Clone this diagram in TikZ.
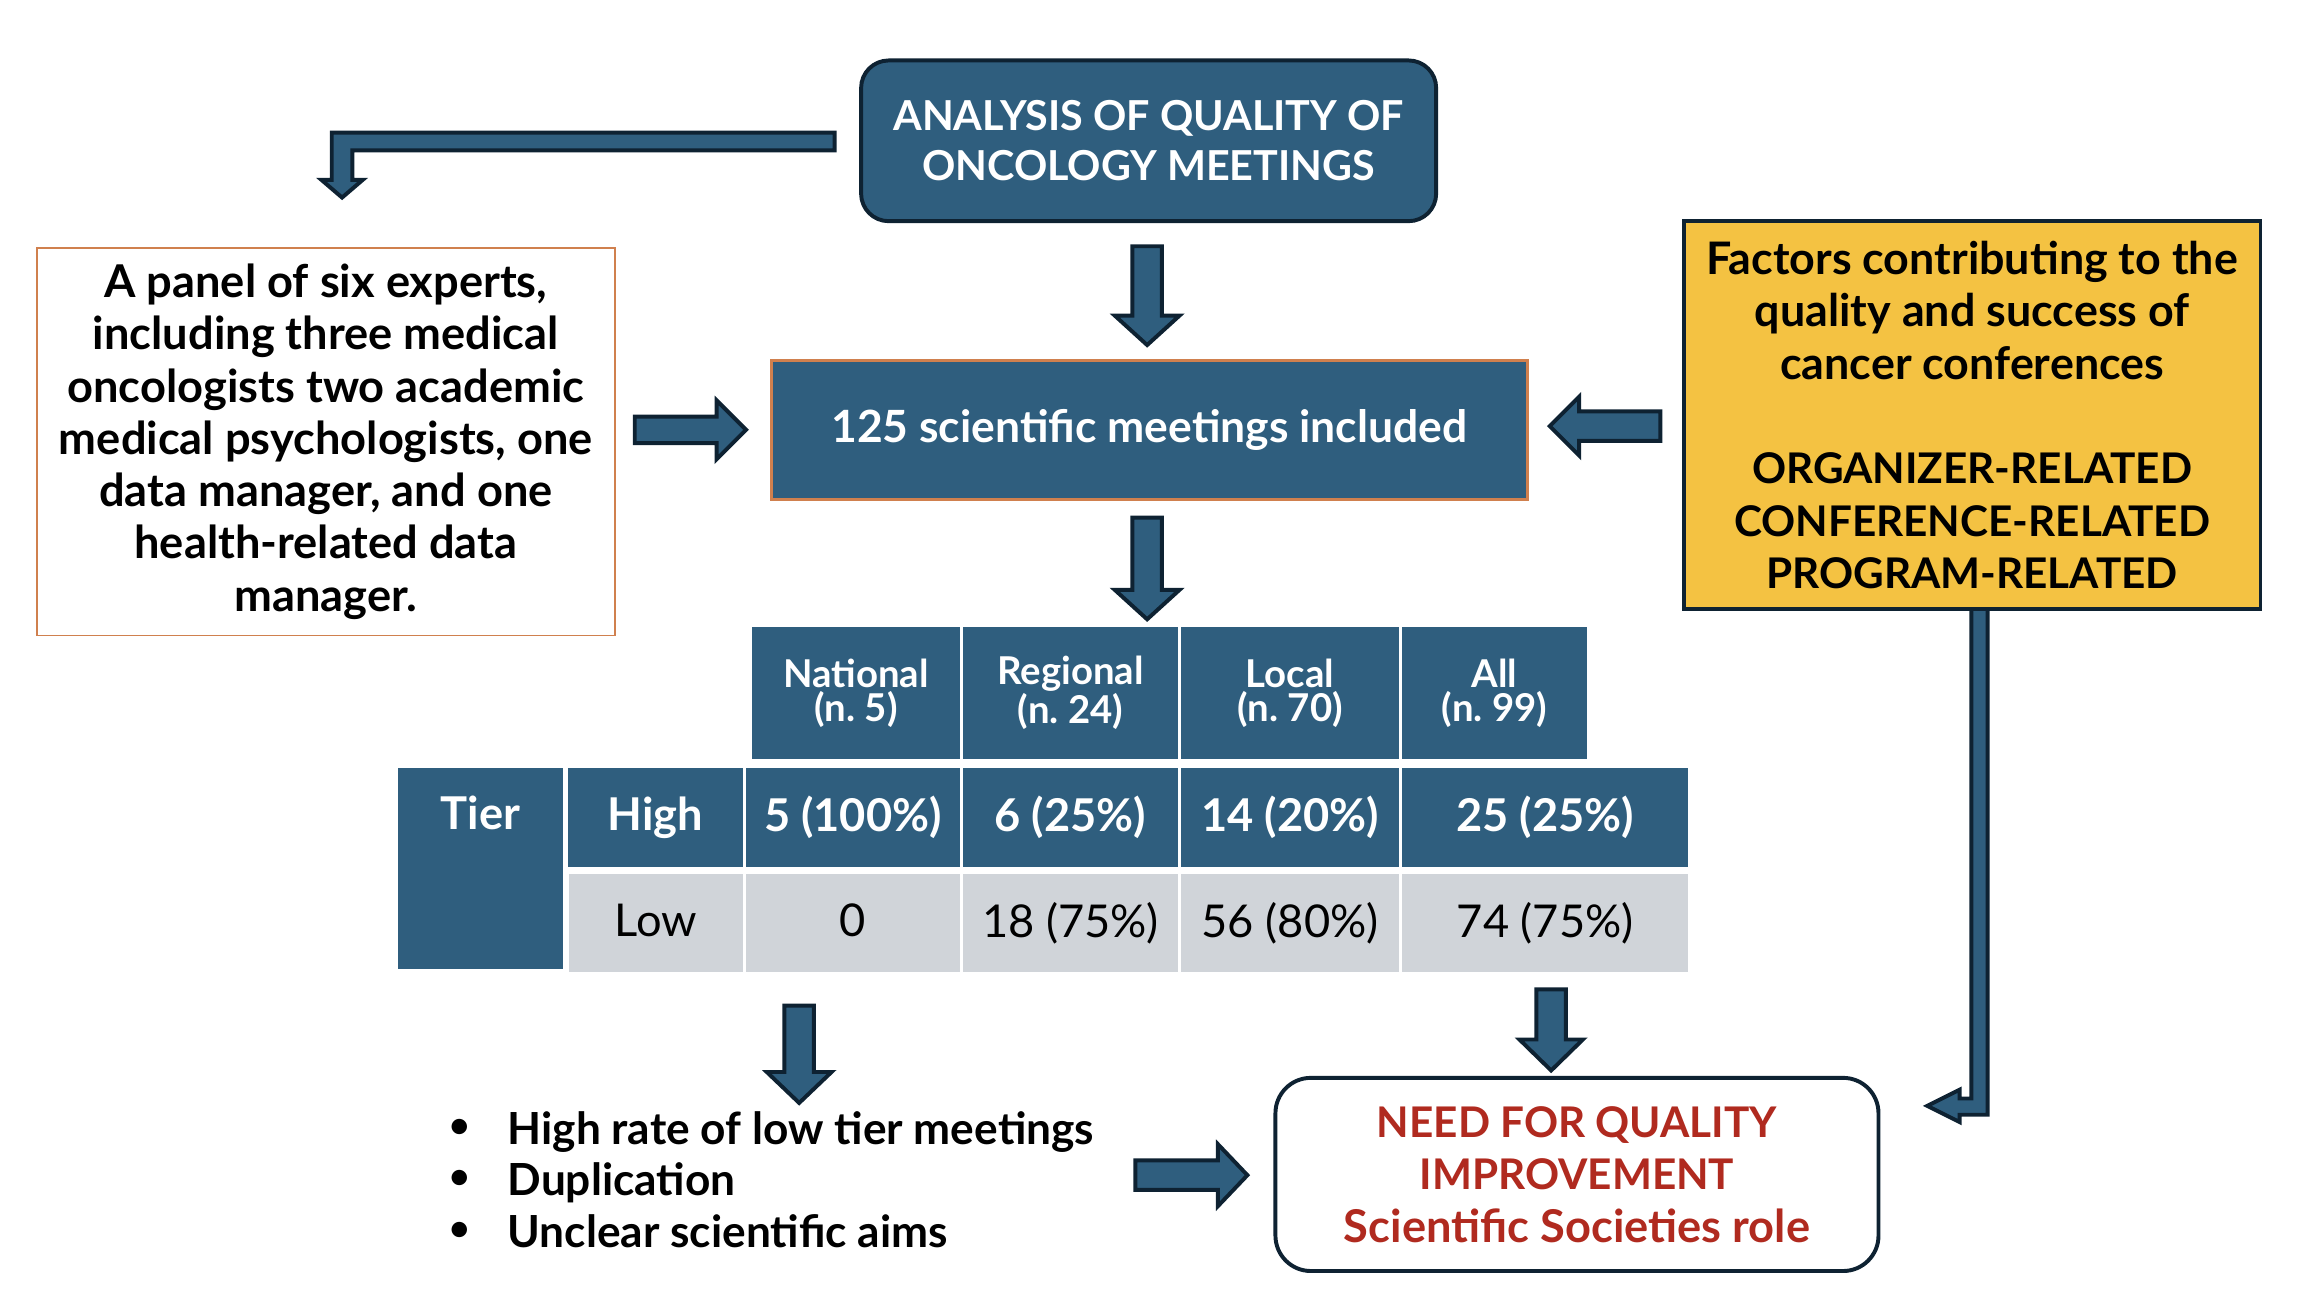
\documentclass[tikz,border=0pt]{standalone}
\usepackage{fontspec}
\setmainfont{Lato}
\definecolor{blu}{HTML}{2F5E7E}
\definecolor{dk}{HTML}{0E2232}
\definecolor{org}{HTML}{D0804E}
\definecolor{yel}{HTML}{F4C242}
\definecolor{gry}{HTML}{D0D4D9}
\definecolor{redt}{HTML}{B02A1F}
\newcommand\blockarr[6]{%
 \begin{scope}[shift={#1},rotate=#2]
 \draw[barr] (0,-#4) -- ({#3-#6},-#4) -- ({#3-#6},-#5) -- (#3,0) -- ({#3-#6},#5) -- ({#3-#6},#4) -- (0,#4) -- cycle;
 \end{scope}}
\newcommand\capsz{\fontsize{21.5}{26.6}\selectfont}
\newcommand\lowsz{\fontsize{22.8}{26.6}\selectfont}
\newcommand\up[1]{\raisebox{2.5pt}{#1}}
\tikzset{
 barr/.style={fill=blu,draw=dk,line width=2pt,line join=miter},
 bigtxt/.style={font=\bfseries\fontsize{23}{26.6}\selectfont,align=center},
 hcell/.style={fill=blu,text=white,inner sep=0pt,font=\bfseries\fontsize{19.5}{17.3}\selectfont,align=center},
 bcell/.style={fill=blu,text=white,inner sep=0pt,font=\bfseries\fontsize{23}{24}\selectfont},
 lcell/.style={fill=gry,text=black,inner sep=0pt,font=\fontsize{23}{24}\selectfont},
}
\begin{document}
\begin{tikzpicture}[x=0.75pt,y=-0.75pt]
\useasboundingbox (0,0) rectangle (1568,875);
% boxes
\node[bigtxt,fill=blu,draw=dk,line width=2pt,rounded corners=14pt,text=white,
 minimum width=292.5pt,minimum height=81.75pt,font=\bfseries\fontsize{21}{25.5}\selectfont]
 (top) at (779,95.5) {ANALYSIS OF QUALITY OF\\ONCOLOGY MEETINGS};
\node[bigtxt,fill=white,draw=org,line width=0.8pt,minimum width=294pt,minimum height=197.25pt]
 (panel) at (221,299.5) {A panel of six experts,\\including three medical\\oncologists two academic\\medical psychologists, one\\data manager, and one\\health-related data\\manager.};
\node[bigtxt,fill=blu,draw=org,line width=1.6pt,text=white,minimum width=384.75pt,minimum height=70.5pt,font=\bfseries\fontsize{22.6}{26.6}\selectfont]
 (mid) at (779.5,291.5) {125 scientific meetings included};
\node[bigtxt,fill=yel,draw=dk,line width=1.8pt,minimum width=293.25pt,minimum height=197.25pt]
 (fac) at (1337.5,281.5) {\lowsz Factors contributing to the\\\lowsz quality and success of\\\lowsz cancer conferences\\[26.6pt]\capsz ORGANIZER-RELATED\\\capsz CONFERENCE-RELATED\\\capsz PROGRAM-RELATED};
\node[bigtxt,fill=white,draw=dk,line width=2pt,rounded corners=18pt,text=redt,minimum width=306.75pt,minimum height=98.25pt]
 (need) at (1069.5,796.5) {\capsz NEED FOR QUALITY\\\capsz IMPROVEMENT\\\fontsize{23}{26.6}\selectfont Scientific Societies role};
% table header
\node[hcell,minimum width=105.75pt,minimum height=67.5pt] (hN) at (580.5,470) {National\\(n.~5)};
\node[hcell,minimum width=109.5pt,minimum height=67.5pt] (hR) at (726,470) {Regional\\(n.~24)};
\node[hcell,minimum width=111pt,minimum height=67.5pt] (hL) at (875,470) {Local\\(n.~70)};
\node[hcell,minimum width=93.75pt,minimum height=67.5pt] (hA) at (1013.5,470) {All\\(n.~99)};
% tier
\node[bcell,minimum width=84pt,minimum height=102pt] (tier) at (326,589) {};
\node[bcell] (tiertxt) at (326,551) {Tier};
% high row
\node[bcell,minimum width=89.25pt,minimum height=50.25pt] (high) at (444.5,554.5) {High};
\node[bcell,minimum width=108.75pt,minimum height=50.25pt] (h1) at (578.5,554.5) {5 (100\%)};
\node[bcell,minimum width=109.5pt,minimum height=50.25pt] (h2) at (726,554.5) {6 (25\%)};
\node[bcell,minimum width=111pt,minimum height=50.25pt] (h3) at (875,554.5) {14 (20\%)};
\node[bcell,minimum width=145.5pt,minimum height=50.25pt] (h4) at (1048,554.5) {25 (25\%)};
% low row
\node[lcell,minimum width=88.5pt,minimum height=49.5pt] (low) at (445,626) {\up{Low}};
\node[lcell,minimum width=108.75pt,minimum height=49.5pt] (l1) at (578.5,626) {\up{0}};
\node[lcell,minimum width=109.5pt,minimum height=49.5pt] (l2) at (726,626) {\up{18 (75\%)}};
\node[lcell,minimum width=111pt,minimum height=49.5pt] (l3) at (875,626) {\up{56 (80\%)}};
\node[lcell,minimum width=145.5pt,minimum height=49.5pt] (l4) at (1048,626) {\up{74 (75\%)}};
% bullets
\foreach \yy/\nm/\tx in {765/b1/High rate of low tier meetings,800/b2/Duplication,835/b3/Unclear scientific aims}{
 \node[font=\bfseries\fontsize{18}{20}\selectfont,anchor=center,inner sep=0pt] (\nm dot) at (312,\yy) {\textbullet};
 \node[font=\bfseries\fontsize{22.5}{26}\selectfont,anchor=base west,inner sep=0pt] (\nm) at (344,\yy+11) {\tx};
}
% arrows
\blockarr{(778,167)}{-90}{67}{10}{22}{20}
\blockarr{(778,351)}{-90}{69}{10}{22}{20}
\blockarr{(430.5,291.5)}{0}{75.5}{9}{20}{20}
\blockarr{(1126,289)}{180}{75}{10}{20}{20}
\blockarr{(542,682)}{-90}{66}{10}{22}{21}
\blockarr{(1052,671)}{-90}{55}{10}{21.5}{21}
\blockarr{(770,797)}{0}{76}{10}{21}{20}
% bent arrows
\draw[barr] (566,90) -- (225,90) -- (225,122) -- (218,122) -- (232,134) -- (246,122) -- (239,122) -- (239,102) -- (566,102) -- cycle;
\draw[barr] (1337,413) -- (1348,413) -- (1348,756) -- (1329,756) -- (1329,761) -- (1307,750) -- (1329,739) -- (1329,745) -- (1337,745) -- cycle;
\end{tikzpicture}
\end{document}
